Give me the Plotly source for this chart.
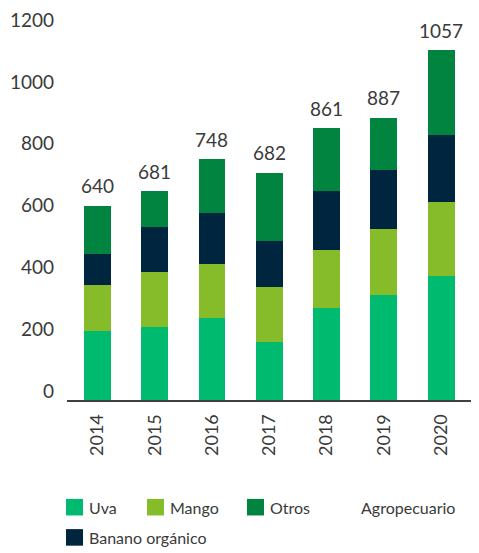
import plotly.graph_objects as go

years = ["2014", "2015", "2016", "2017", "2018", "2019", "2020"]
uva = [223, 235, 264, 188, 299, 340, 401]
mango = [149, 178, 175, 178, 188, 213, 241]
banano = [102, 146, 165, 149, 188, 191, 217]
otros = [155, 117, 175, 220, 204, 169, 273]
total_labels = ["640", "681", "748", "682", "861", "887", "1057"]

C_UVA = "#00BA6F"
C_MANGO = "#86BB2A"
C_BANANO = "#00263F"
C_OTROS = "#008440"
TXT = "#3a3a3a"
FONT = "Lato"

OFF = 8  # page body margin
W, H = 479 - OFF, 553 - OFF
ML, MR, MT, MB = 67 - OFF, 0, 1, 153
PW, PH = W - ML - MR, H - MT - MB

fig = go.Figure()
for name, vals, col in [("Uva", uva, C_UVA), ("Mango", mango, C_MANGO),
                        ("Banano orgánico", banano, C_BANANO),
                        ("Otros Agropecuario", otros, C_OTROS)]:
    fig.add_trace(go.Bar(x=years, y=vals, name=name, marker=dict(color=col, line=dict(width=0)),
                         width=0.47, showlegend=False))

tops = [a + b + c + d for a, b, c, d in zip(uva, mango, banano, otros)]
for i, (t, lab) in enumerate(zip(tops, total_labels)):
    fig.add_annotation(x=i, y=t, xref="x", yref="y", text=lab, showarrow=False,
                       yanchor="middle", yshift=20,
                       font=dict(family=FONT, size=19, color=TXT))

def px_x(px):
    return (px - OFF - ML) / PW

def px_y(py):
    return (H - MB - (py - OFF)) / PH

legend_items = [
    ("Uva", C_UVA, 66, 510),
    ("Mango", C_MANGO, 147, 510),
    ("Otros", C_OTROS, 247, 510),
    ("Banano orgánico", C_BANANO, 66, 541),
]
for txt, col, x0, yc in legend_items:
    fig.add_shape(type="rect", xref="paper", yref="paper",
                  x0=px_x(x0), x1=px_x(x0 + 17), y0=px_y(yc + 8.5), y1=px_y(yc - 8.5),
                  fillcolor=col, line=dict(width=0))
    fig.add_annotation(xref="paper", yref="paper", x=px_x(x0 + 21), y=px_y(yc), text=txt,
                       showarrow=False, xanchor="left", yanchor="middle",
                       font=dict(family=FONT, size=16, color=TXT))
fig.add_annotation(xref="paper", yref="paper", x=px_x(359), y=px_y(510), text="Agropecuario",
                   showarrow=False, xanchor="left", yanchor="middle",
                   font=dict(family=FONT, size=16, color=TXT))

fig.update_layout(
    width=W, height=H,
    margin=dict(l=ML, r=MR, t=MT, b=MB),
    barmode="stack",
    plot_bgcolor="white", paper_bgcolor="white",
    font=dict(family=FONT, color=TXT),
    showlegend=False,
)
fig.update_xaxes(type="category", range=[-0.53, 6.66], showline=True, linecolor="#404040",
                 linewidth=2, showgrid=False, ticks="", tickangle=-90,
                 tickfont=dict(family=FONT, size=18, color=TXT), ticklabelstandoff=5)
fig.update_yaxes(range=[0, 1233], tickvals=[0, 200, 400, 600, 800, 1000, 1200],
                 showgrid=False, zeroline=False, showline=False, ticks="",
                 tickfont=dict(family=FONT, size=19, color=TXT), ticklabelshift=-9,
                 ticklabelstandoff=12, ticklabeloverflow="allow")

fig.write_html("out.html")
